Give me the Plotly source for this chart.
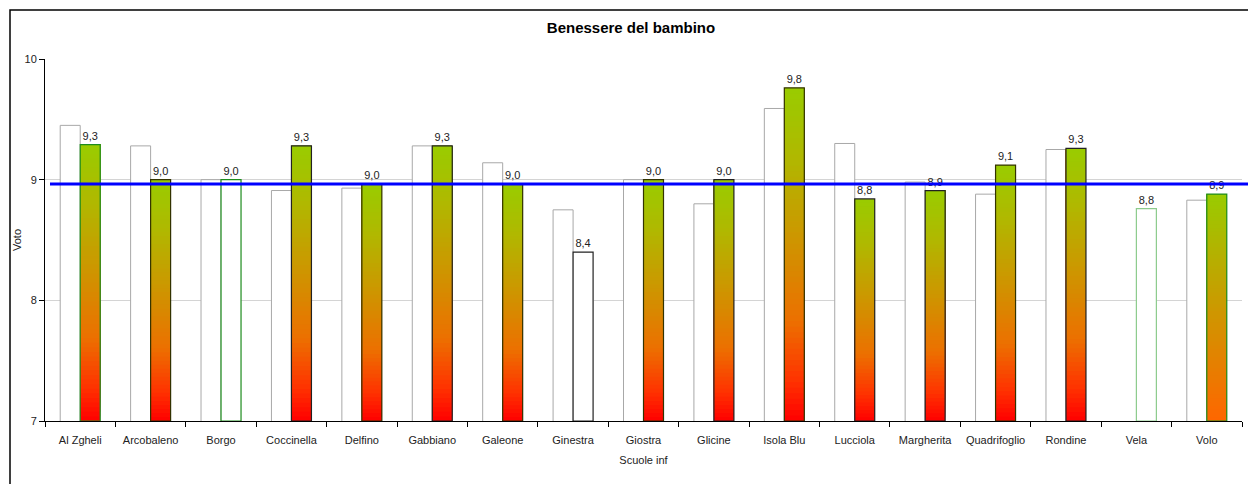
import plotly.graph_objects as go

# ---- data ----
categorie = ["Al Zgheli", "Arcobaleno", "Borgo", "Coccinella", "Delfino", "Gabbiano",
             "Galeone", "Ginestra", "Giostra", "Glicine", "Isola Blu", "Lucciola",
             "Margherita", "Quadrifoglio", "Rondine", "Vela", "Volo"]
anno_prec = [9.45, 9.28, 9.00, 8.91, 8.93, 9.28, 9.14, 8.75, 9.00, 8.80, 9.59, 9.30,
             8.98, 8.88, 9.25, None, 8.83]
anno_corr = [9.29, 9.00, 9.00, 9.28, 8.96, 9.28, 8.96, 8.40, 9.00, 9.00, 9.76, 8.84,
             8.91, 9.12, 9.26, 8.76, 8.88]
riempimento = ["rg", "rg", "bianco", "rg", "rg", "rg", "rg", "bianco", "rg", "rg", "rg",
               "rg", "rg", "rg", "rg", "bianco", "go"]
bordo = ["#1E8C1E", "#333300", "#1E8C1E", "#222222", "#333300", "#222222", "#333300",
         "#222222", "#333300", "#222222", "#333300", "#222222", "#222222", "#333300",
         "#222222", "#8CCB8C", "#1E8C1E"]
media = 8.965
y_ticks = [7, 8, 9, 10]
base_asse = 7

FONT = "Liberation Sans Narrow, Arial Narrow, Liberation Sans, Arial, sans-serif"

# gradient stops (fraction from bottom -> rgb)
scale_rg = [(0.0, (255, 0, 0)), (0.12, (255, 50, 0)), (0.3, (236, 112, 0)),
            (0.55, (205, 150, 0)), (0.8, (175, 185, 0)), (1.0, (153, 204, 0))]
scale_go = [(0.0, (255, 102, 0)), (1.0, (153, 204, 0))]


def interp(scale, f):
    for (f0, c0), (f1, c1) in zip(scale[:-1], scale[1:]):
        if f <= f1:
            t = (f - f0) / (f1 - f0) if f1 > f0 else 0
            c = [round(a + (b - a) * t) for a, b in zip(c0, c1)]
            return f"rgb({c[0]},{c[1]},{c[2]})"
    c = scale[-1][1]
    return f"rgb({c[0]},{c[1]},{c[2]})"


W = 0.284
fig = go.Figure()

# previous year bars (white, grey border)
fig.add_trace(go.Bar(
    x=categorie, y=anno_prec, width=W, offset=-W,
    marker=dict(color="white", line=dict(color="#A8A8A8", width=1)),
    hoverinfo="skip", showlegend=False))

# current year gradient bars (stacked overlapping segments)
N = 60
for i in range(N):
    f = (i + 0.5) / N
    bases, heights, colors = [], [], []
    for v, r in zip(anno_corr, riempimento):
        b = base_asse + (v - base_asse) * i / N
        bases.append(b)
        heights.append(v - b)
        if r == "rg":
            colors.append(interp(scale_rg, f))
        elif r == "go":
            colors.append(interp(scale_go, f))
        else:
            colors.append("white")
    fig.add_trace(go.Bar(
        x=categorie, y=heights, base=bases, width=W, offset=0,
        marker=dict(color=colors, line=dict(width=0)),
        hoverinfo="skip", showlegend=False))

# outline + labels for current year
etichette = [f"{v:.1f}".replace(".", ",") for v in anno_corr]
fig.add_trace(go.Bar(
    x=categorie, y=[v - base_asse for v in anno_corr], base=[base_asse] * len(anno_corr),
    width=W, offset=0,
    marker=dict(color="rgba(0,0,0,0)", line=dict(color=bordo, width=1.2)),
    text=etichette, textposition="outside", cliponaxis=False,
    textfont=dict(family=FONT, size=11, color="#222"),
    hoverinfo="skip", showlegend=False))

# page body has an 8px margin: plot area on screen 45..1242 x 59..421
L, T, PW, PH = 37, 51, 1197, 362
fig.update_layout(
    width=1256, height=484,
    margin=dict(l=L, r=1256 - L - PW, t=T, b=484 - T - PH, autoexpand=False),
    paper_bgcolor="white", plot_bgcolor="white",
    barmode="overlay",
    font=dict(family=FONT, size=11, color="#222"),
    title=dict(text="<b>Benessere del bambino</b>", x=(631 - 8) / 1256, xanchor="center",
               y=1 - 20 / 484, yanchor="middle",
               font=dict(family=FONT, size=15, color="black")),
    xaxis=dict(
        title=dict(text="Scuole inf", standoff=11, font=dict(size=11)),
        showline=True, linecolor="black", linewidth=1, automargin=False,
        ticks="outside", tickson="boundaries", ticklen=5, tickcolor="black",
        ticklabelstandoff=9,
        tickangle=0, showgrid=False, tickfont=dict(size=11)),
    yaxis=dict(
        title=dict(text="Voto", standoff=0, font=dict(size=11)),
        range=[7, 10], tickvals=y_ticks, showline=True, linecolor="black",
        linewidth=1, ticks="outside", ticklen=5, tickcolor="black", automargin=False,
        showgrid=True, gridcolor="#D4D4D4", gridwidth=1, zeroline=False,
        tickfont=dict(size=11)),
    shapes=[
        dict(type="line", xref="paper", yref="y", x0=5 / PW, x1=1.03,
             y0=media, y1=media, line=dict(color="#0000FF", width=3), layer="above"),
        dict(type="rect", xref="paper", yref="paper", x0=(2 - L) / PW, x1=1.05,
             y0=-0.3, y1=(T + PH - 2) / PH, line=dict(color="black", width=1.5),
             fillcolor="rgba(0,0,0,0)", layer="above"),
    ],
)

fig.write_html("out.html")
